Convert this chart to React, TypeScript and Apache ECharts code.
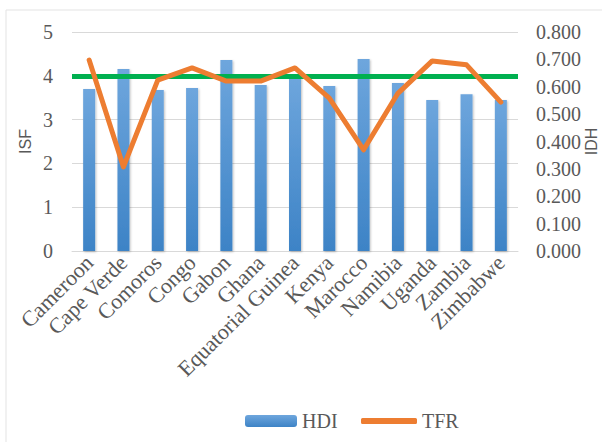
import React, { useEffect, useRef } from "react";
import * as echarts from "echarts";

// Countries on the category axis
const countries = [
  "Cameroon",
  "Cape Verde",
  "Comoros",
  "Congo",
  "Gabon",
  "Ghana",
  "Equatorial Guinea",
  "Kenya",
  "Marocco",
  "Namibia",
  "Uganda",
  "Zambia",
  "Zimbabwe",
];

// Human Development Index (right axis, IDH)
const hdi = [0.592, 0.665, 0.588, 0.595, 0.698, 0.606, 0.64, 0.603, 0.701, 0.614, 0.552, 0.573, 0.552];

// Total fertility rate (left axis, ISF)
const tfr = [4.36, 1.92, 3.9, 4.18, 3.88, 3.88, 4.18, 3.49, 2.31, 3.6, 4.34, 4.25, 3.4];

// Reference level drawn across the plot (right-axis units)
const referenceLevel = 0.64;

const leftTicks = { min: 0, max: 5, interval: 1 };
const rightTicks = { min: 0, max: 0.8, interval: 0.1 };

const serif = "'Liberation Serif', 'Times New Roman', serif";
const sans = "'Liberation Sans', Arial, sans-serif";
const gray = "#595959";

export default function App() {
  const ref = useRef<HTMLDivElement>(null);

  useEffect(() => {
    if (!ref.current) return;
    const chart = echarts.init(ref.current, undefined, { renderer: "svg" });

    const barGradient = new echarts.graphic.LinearGradient(0, 0, 0, 1, [
      { offset: 0, color: "#6ea6dd" },
      { offset: 1, color: "#3d83c6" },
    ]);

    const legendText = { fontFamily: serif, fontSize: 20, color: gray };

    chart.setOption({
      animation: false,
      backgroundColor: "#ffffff",
      graphic: [
        {
          type: "rect",
          shape: { x: 6, y: 10, width: 640, height: 480 },
          style: { fill: "none", stroke: "#e3e3e3", lineWidth: 1 },
          silent: true,
        },
      ],
      grid: { left: 72, right: 84, top: 32, bottom: 191, outerBoundsMode: "none" },
      legend: [
        {
          left: 240,
          top: 406,
          itemWidth: 52,
          itemHeight: 12,
          textStyle: legendText,
          data: [{ name: "HDI" }],
        },
        {
          left: 356,
          top: 406,
          itemWidth: 56,
          itemHeight: 6,
          icon: "roundRect",
          textStyle: legendText,
          data: [{ name: "TFR" }],
        },
      ],
      xAxis: {
        type: "category",
        data: countries,
        axisTick: { show: false },
        axisLine: { lineStyle: { color: "#d9d9d9", width: 1 } },
        axisLabel: {
          interval: 0,
          rotate: 45,
          margin: 8,
          fontFamily: serif,
          fontSize: 22,
          color: gray,
        },
      },
      yAxis: [
        {
          type: "value",
          ...leftTicks,
          name: "ISF",
          nameLocation: "middle",
          nameRotate: 90,
          nameGap: 39,
          nameMoveOverlap: false,
          nameTextStyle: { fontFamily: sans, fontSize: 16, color: gray },
          axisLine: { show: false },
          axisTick: { show: false },
          splitLine: { lineStyle: { color: "#d9d9d9", width: 1 } },
          axisLabel: { fontFamily: serif, fontSize: 20, color: gray, margin: 19 },
        },
        {
          type: "value",
          ...rightTicks,
          position: "right",
          name: "IDH",
          nameLocation: "middle",
          nameRotate: 90,
          nameGap: 65,
          nameMoveOverlap: false,
          nameTextStyle: { fontFamily: sans, fontSize: 16, color: gray },
          axisLine: { show: false },
          axisTick: { show: false },
          splitLine: { show: false },
          axisLabel: {
            fontFamily: serif,
            fontSize: 20,
            color: gray,
            margin: 18,
            formatter: (v: number) => v.toFixed(3),
          },
        },
      ],
      series: [
        {
          name: "HDI",
          type: "bar",
          yAxisIndex: 1,
          data: hdi,
          barWidth: "35%",
          itemStyle: {
            color: barGradient,
            shadowColor: "rgba(0,0,0,0.25)",
            shadowBlur: 2,
            shadowOffsetX: 1,
            shadowOffsetY: 1,
          },
          markLine: {
            silent: true,
            symbol: "none",
            label: { show: false },
            lineStyle: { color: "#00b050", width: 5, type: "solid" },
            data: [{ yAxis: referenceLevel }],
          },
        },
        {
          name: "TFR",
          type: "line",
          yAxisIndex: 0,
          data: tfr,
          z: 6,
          symbol: "none",
          showSymbol: false,
          color: "#ed7d31",
          itemStyle: { color: "#ed7d31" },
          lineStyle: { color: "#ed7d31", width: 5, cap: "round", join: "round" },
        },
      ],
    });

    return () => chart.dispose();
  }, []);

  return (
    <div
      ref={ref}
      style={{ position: "fixed", left: 0, top: 0, width: 602, height: 442 }}
    />
  );
}
